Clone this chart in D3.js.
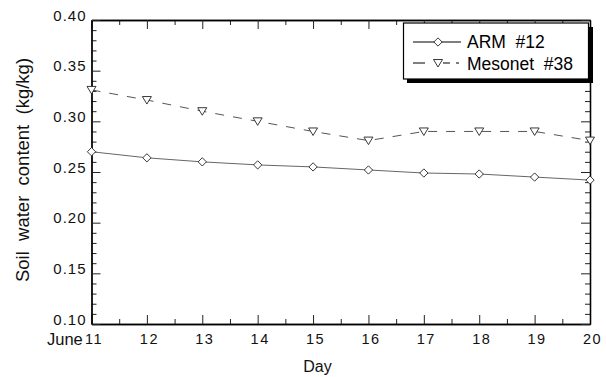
<!DOCTYPE html>
<html>
<head>
<meta charset="utf-8">
<script src="https://cdn.jsdelivr.net/npm/d3@7"></script>
<style>
  body { margin: 0; background: #fff; }
  svg { display: block; font-family: "Liberation Sans", Arial, sans-serif; }
</style>
</head>
<body>
<div id="chart"></div>
<script>
// data
var days = [11, 12, 13, 14, 15, 16, 17, 18, 19, 20]
var arm12 = [0.270, 0.264, 0.260, 0.257, 0.255, 0.252, 0.249, 0.248, 0.245, 0.242]
var meso38 = [0.331, 0.321, 0.310, 0.300, 0.290, 0.281, 0.290, 0.290, 0.290, 0.281]
var yTicks = [0.10, 0.15, 0.20, 0.25, 0.30, 0.35, 0.40]
var seriesNames = ["ARM\u00a0\u00a0#12", "Mesonet\u00a0\u00a0#38"]

var width = 606,
    height = 377

var x = d3.scaleLinear().domain([11, 20]).range([91.5, 590])
var y = d3.scaleLinear().domain([0.10, 0.40]).range([324, 20])

var svg = d3.select("#chart")
  .append("svg")
    .attr("width", width)
    .attr("height", height)

// minor ticks (half days, 0.01)
var xMinor = d3.range(11.5, 20, 1)
var yMinor = d3.range(10, 41).map(function(d) { return d / 100 }).filter(function(d) { return Math.round(d * 100) % 5 != 0 })

function styleAxis(g) {
  g.select(".domain").attr("stroke", "#000").attr("stroke-width", 1.3)
  g.selectAll(".tick line").attr("stroke", "#222").attr("stroke-width", 1)
}

// bottom
svg.append("g").attr("transform", "translate(0,324)")
  .call(d3.axisBottom(x).tickValues(xMinor).tickSize(-5).tickSizeOuter(0).tickFormat(""))
  .call(styleAxis)
var xAx = svg.append("g").attr("transform", "translate(0,324)")
  .call(d3.axisBottom(x).tickValues(days).tickSize(-9).tickSizeOuter(0).tickFormat(d3.format("d")))
  .call(styleAxis)
xAx.selectAll(".tick text")
  .attr("y", 19.5).attr("dy", 0).attr("dx", 2)
  .attr("font-size", 14.5).attr("fill", "#111")
  .style("letter-spacing", "1.5px")

// top
svg.append("g").attr("transform", "translate(0,20)")
  .call(d3.axisTop(x).tickValues(xMinor).tickSize(-5).tickSizeOuter(0).tickFormat(""))
  .call(styleAxis)
svg.append("g").attr("transform", "translate(0,20)")
  .call(d3.axisTop(x).tickValues(days).tickSize(-9).tickSizeOuter(0).tickFormat(""))
  .call(styleAxis)

// left
svg.append("g").attr("transform", "translate(91.5,0)")
  .call(d3.axisLeft(y).tickValues(yMinor).tickSize(-5).tickSizeOuter(0).tickFormat(""))
  .call(styleAxis)
var yAx = svg.append("g").attr("transform", "translate(91.5,0)")
  .call(d3.axisLeft(y).tickValues(yTicks).tickSize(-9).tickSizeOuter(0).tickFormat(d3.format(".2f")))
  .call(styleAxis)
yAx.selectAll(".tick text")
  .attr("x", -5).attr("dy", 0)
  .attr("font-size", 15).attr("fill", "#111")
  .style("letter-spacing", "1px")

// right
svg.append("g").attr("transform", "translate(590,0)")
  .call(d3.axisRight(y).tickValues(yMinor).tickSize(-5).tickSizeOuter(0).tickFormat(""))
  .call(styleAxis)
svg.append("g").attr("transform", "translate(590,0)")
  .call(d3.axisRight(y).tickValues(yTicks).tickSize(-9).tickSizeOuter(0).tickFormat(""))
  .call(styleAxis)

// axis titles
svg.append("text")
  .attr("x", 47).attr("y", 345)
  .attr("font-size", 16.5).attr("fill", "#111")
  .text("June")
svg.append("text")
  .attr("x", 317.5).attr("y", 372)
  .attr("text-anchor", "middle")
  .attr("font-size", 16).attr("fill", "#111")
  .text("Day")
svg.append("text")
  .attr("transform", "translate(29," + 170 + ") rotate(-90)")
  .attr("text-anchor", "middle")
  .attr("font-size", 18.5).attr("fill", "#111")
  .text("Soil\u00a0\u00a0water\u00a0\u00a0content\u00a0\u00a0(kg/kg)")

// lines
var armData = days.map(function(d, i) { return [d, arm12[i]] })
var mesoData = days.map(function(d, i) { return [d, meso38[i]] })
var line = d3.line().x(function(d) { return x(d[0]) }).y(function(d) { return y(d[1]) })

svg.append("path").datum(armData)
  .attr("d", line).attr("fill", "none")
  .attr("stroke", "#666").attr("stroke-width", 1)
svg.append("path").datum(mesoData)
  .attr("d", line).attr("fill", "none")
  .attr("stroke", "#555").attr("stroke-width", 1)
  .attr("stroke-dasharray", "9,9")

var diamond = d3.symbol().type(d3.symbolDiamond2).size(44)
var tri = "M-4.5,-3.5L4.5,-3.5L0,4Z"

svg.selectAll(".arm").data(armData).enter()
  .append("path")
    .attr("transform", function(d) { return "translate(" + x(d[0]) + "," + y(d[1]) + ")" })
    .attr("d", diamond)
    .attr("fill", "#fff").attr("stroke", "#222").attr("stroke-width", 0.9)
svg.selectAll(".meso").data(mesoData).enter()
  .append("path")
    .attr("transform", function(d) { return "translate(" + x(d[0]) + "," + y(d[1]) + ")" })
    .attr("d", tri)
    .attr("fill", "#fff").attr("stroke", "#222").attr("stroke-width", 0.9)

// legend
var lg = svg.append("g")
lg.append("rect")
  .attr("x", 407).attr("y", 27).attr("width", 186).attr("height", 56)
  .attr("fill", "#000")
lg.append("rect")
  .attr("x", 403.5).attr("y", 23).attr("width", 185).attr("height", 56)
  .attr("fill", "#fff").attr("stroke", "#000").attr("stroke-width", 1.2)

lg.append("line").attr("x1", 413).attr("x2", 461).attr("y1", 42).attr("y2", 42)
  .attr("stroke", "#000").attr("stroke-width", 1)
lg.append("path").attr("transform", "translate(438,42)").attr("d", diamond)
  .attr("fill", "#fff").attr("stroke", "#222").attr("stroke-width", 0.9)
lg.append("line").attr("x1", 413).attr("x2", 461).attr("y1", 63).attr("y2", 63)
  .attr("stroke", "#000").attr("stroke-width", 1).attr("stroke-dasharray", "12,18,7,6,3")
lg.append("path").attr("transform", "translate(438,63)").attr("d", tri)
  .attr("fill", "#fff").attr("stroke", "#222").attr("stroke-width", 0.9)

lg.selectAll(".lt").data(seriesNames).enter()
  .append("text")
    .attr("x", 467)
    .attr("y", function(d, i) { return 48 + i * 22 })
    .attr("font-size", 17.5).attr("fill", "#000")
    .text(function(d) { return d })
</script>
</body>
</html>
